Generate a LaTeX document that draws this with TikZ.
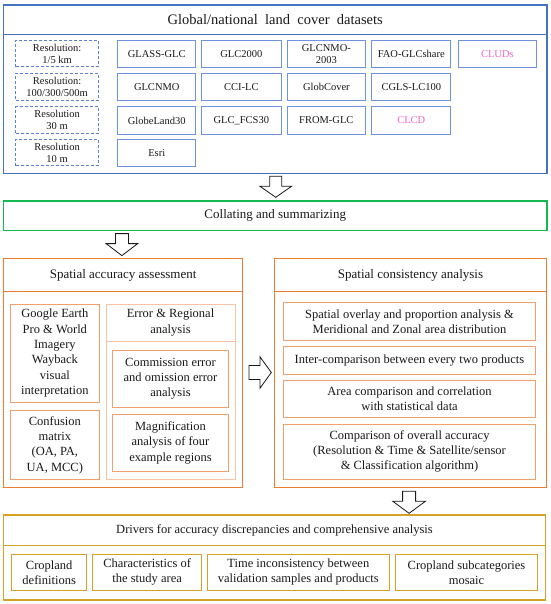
\documentclass[tikz,border=0pt]{standalone}
\usepackage{fontspec}
\setmainfont{Liberation Serif}
\usetikzlibrary{calc}
\definecolor{bOuter}{RGB}{68,114,196}
\definecolor{bInner}{RGB}{112,146,226}
\definecolor{bDash}{RGB}{92,130,216}
\definecolor{gLine}{RGB}{20,185,80}
\definecolor{oLine}{RGB}{237,125,49}
\definecolor{oMid}{RGB}{242,160,110}
\definecolor{oLight}{RGB}{247,196,165}
\definecolor{yLine}{RGB}{214,162,38}
\definecolor{pinkT}{RGB}{240,100,200}
\definecolor{txt}{RGB}{25,25,25}
\newcommand{\rbox}[7]{%
  \pgfmathsetmacro{\cxx}{(#3+#5)/2}\pgfmathsetmacro{\cyy}{(#4+#6)/2}%
  \pgfmathsetmacro{\www}{#5-#3}\pgfmathsetmacro{\hhh}{#6-#4}%
  \node[#2, minimum width=\www pt, minimum height=\hhh pt] (#1) at (\cxx,\cyy) {#7};}
\tikzset{
  base/.style={draw, rectangle, inner sep=0pt, align=center, text=txt},
  frameB/.style={base, draw=bOuter, line width=1.2pt},
  dsbox/.style={base, draw=bInner, line width=1pt, font=\fontsize{10.5}{12}\selectfont},
  resbox/.style={base, draw=bDash, line width=0.9pt, dashed, dash pattern=on 3pt off 2pt, font=\fontsize{10.5}{12}\selectfont},
  frameG/.style={base, draw=gLine, line width=1.2pt, font=\fontsize{13}{15}\selectfont},
  frameO/.style={base, draw=oLine, line width=1.2pt, font=\fontsize{13}{15}\selectfont},
  inO/.style={base, draw=oMid, line width=1pt, font=\fontsize{12.5}{15.3}\selectfont},
  inOL/.style={base, draw=oLight, line width=1pt, font=\fontsize{12.5}{15.3}\selectfont},
  frameY/.style={base, draw=yLine, line width=1.2pt, font=\fontsize{12.5}{15}\selectfont},
  inY/.style={base, draw=yLine, line width=1pt, font=\fontsize{12.5}{15}\selectfont},
  hollow/.style={draw=txt, line width=0.8pt, fill=white, line join=miter},
}
\begin{document}
\begin{tikzpicture}[x=1pt,y=-1pt]
\useasboundingbox[fill=white] (0,0) rectangle (550,604);

% ---------- top block ----------
\rbox{topframe}{frameB}{3.5}{5}{547}{173.3}{}
\rbox{toptitle}{frameB,font=\fontsize{14.5}{16}\selectfont}{3.5}{5}{547}{34.3}{Global/national\ \ land\ \ cover\ \ datasets}

\rbox{r1}{resbox}{15.8}{40.7}{98.4}{66.7}{Resolution:\\1/5 km}
\rbox{r2}{resbox}{15.8}{73.3}{98.4}{100}{Resolution:\\100/300/500m}
\rbox{r3}{resbox}{15.8}{106.7}{98.4}{133.3}{Resolution\\30 m}
\rbox{r4}{resbox}{15.8}{139.3}{98.4}{165.7}{Resolution\\10 m}

\rbox{d11}{dsbox}{117.7}{40.7}{195.8}{67.7}{GLASS-GLC}
\rbox{d12}{dsbox}{201.4}{40.7}{281.2}{67.7}{GLC2000}
\rbox{d13}{dsbox}{287.2}{40.7}{365.5}{67.7}{GLCNMO-\\2003}
\rbox{d14}{dsbox}{371.9}{40.7}{450.6}{67.7}{FAO-GLCshare}
\rbox{d15}{dsbox,text=pinkT}{458}{40.7}{536.7}{67.7}{CLUDs}

\rbox{d21}{dsbox}{117.7}{73.3}{195.8}{100.7}{GLCNMO}
\rbox{d22}{dsbox}{201.4}{73.3}{281.2}{100.7}{CCI-LC}
\rbox{d23}{dsbox}{287.2}{73.3}{365.5}{100.7}{GlobCover}
\rbox{d24}{dsbox}{371.9}{73.3}{450.6}{100.7}{CGLS-LC100}

\rbox{d31}{dsbox}{117.7}{106.7}{195.8}{134.3}{GlobeLand30}
\rbox{d32}{dsbox}{201.4}{106.7}{281.2}{134.3}{GLC\_FCS30}
\rbox{d33}{dsbox}{287.2}{106.7}{365.5}{134.3}{FROM-GLC}
\rbox{d34}{dsbox,text=pinkT}{371.9}{106.7}{450.6}{134.3}{CLCD}

\rbox{d41}{dsbox}{117.7}{139.3}{195.8}{166.7}{Esri}

% ---------- collating ----------
\rbox{collate}{frameG}{3.5}{201}{547}{230.7}{Collating and summarizing}

% ---------- left block ----------
\rbox{leftframe}{frameO}{3.5}{258.3}{242.7}{487.7}{}
\rbox{lefttitle}{frameO}{3.5}{258.3}{242.7}{291.7}{Spatial accuracy assessment}
\rbox{google}{inO}{10.7}{304}{99}{402.3}{Google Earth\\Pro \& World\\Imagery\\Wayback\\visual\\interpretation}
\rbox{confusion}{inO}{10.7}{410.7}{99}{479.3}{Confusion\\matrix\\(OA, PA,\\UA, MCC)}
\rbox{errframe}{inOL}{106}{304}{235}{479.3}{}
\rbox{errtitle}{inOL}{106}{304}{235}{341}{Error \& Regional\\analysis}
\rbox{commission}{inO}{112.7}{350}{228.3}{407.3}{Commission error\\and omission error\\analysis}
\rbox{magnif}{inO}{112.7}{414}{228.3}{471.7}{Magnification\\analysis of four\\example regions}

% ---------- right block ----------
\rbox{rightframe}{frameO}{274.3}{258.3}{546.7}{487.7}{}
\rbox{righttitle}{frameO}{274.3}{258.3}{546.7}{291.7}{Spatial consistency analysis}
\rbox{overlay}{inO}{283.3}{302.7}{535.7}{340.7}{Spatial overlay and proportion analysis \&\\Meridional and Zonal area distribution}
\rbox{inter}{inO}{283.3}{346.7}{535.7}{374}{Inter-comparison between every two products}
\rbox{area}{inO}{283.3}{380}{535.7}{417.7}{Area comparison and correlation\\with statistical data}
\rbox{overall}{inO}{283.3}{424}{535.7}{479}{Comparison of overall accuracy\\(Resolution \& Time \& Satellite/sensor\\\& Classification algorithm)}

% ---------- bottom block ----------
\rbox{botframe}{frameY}{3.3}{515}{545.7}{600}{}
\rbox{bottitle}{frameY}{3.3}{515}{545.7}{545.7}{Drivers for accuracy discrepancies and comprehensive analysis}
\rbox{b1}{inY}{11.7}{554}{86.7}{590.7}{Cropland\\definitions}
\rbox{b2}{inY}{92.7}{554}{201.7}{590.7}{Characteristics of\\the study area}
\rbox{b3}{inY}{207.3}{554}{389.3}{590.7}{Time inconsistency between\\validation samples and products}
\rbox{b4}{inY}{395.7}{554}{537.3}{590.7}{Cropland subcategories\\mosaic}

% ---------- hollow arrows ----------
\coordinate (a1) at ($(topframe.south)+(0.5,2.4)$);
\draw[hollow] (a1) ++(-6,0) -- ++(12,0) -- ++(0,10) -- ++(9.8,0) -- ++(-15.8,11) -- ++(-15.8,-11) -- ++(9.8,0) -- cycle;
\coordinate (a2) at ($(collate.south west)+(119,2.3)$);
\draw[hollow] (a2) ++(-6.5,0) -- ++(13,0) -- ++(0,10) -- ++(9.3,0) -- ++(-15.8,12) -- ++(-15.8,-12) -- ++(9.3,0) -- cycle;
\coordinate (a3) at ($(leftframe.east)+(5.6,-0.5)$);
\draw[hollow] (a3) ++(0,-7) -- ++(0,14) -- ++(11,0) -- ++(0,8.8) -- ++(11.4,-15.8) -- ++(-11.4,-15.8) -- ++(0,8.8) -- cycle;
\coordinate (a4) at ($(rightframe.south west)+(135.4,3)$);
\draw[hollow] (a4) ++(-6.5,0) -- ++(13,0) -- ++(0,10) -- ++(9.8,0) -- ++(-16.3,12) -- ++(-16.3,-12) -- ++(9.8,0) -- cycle;
\end{tikzpicture}
\end{document}
